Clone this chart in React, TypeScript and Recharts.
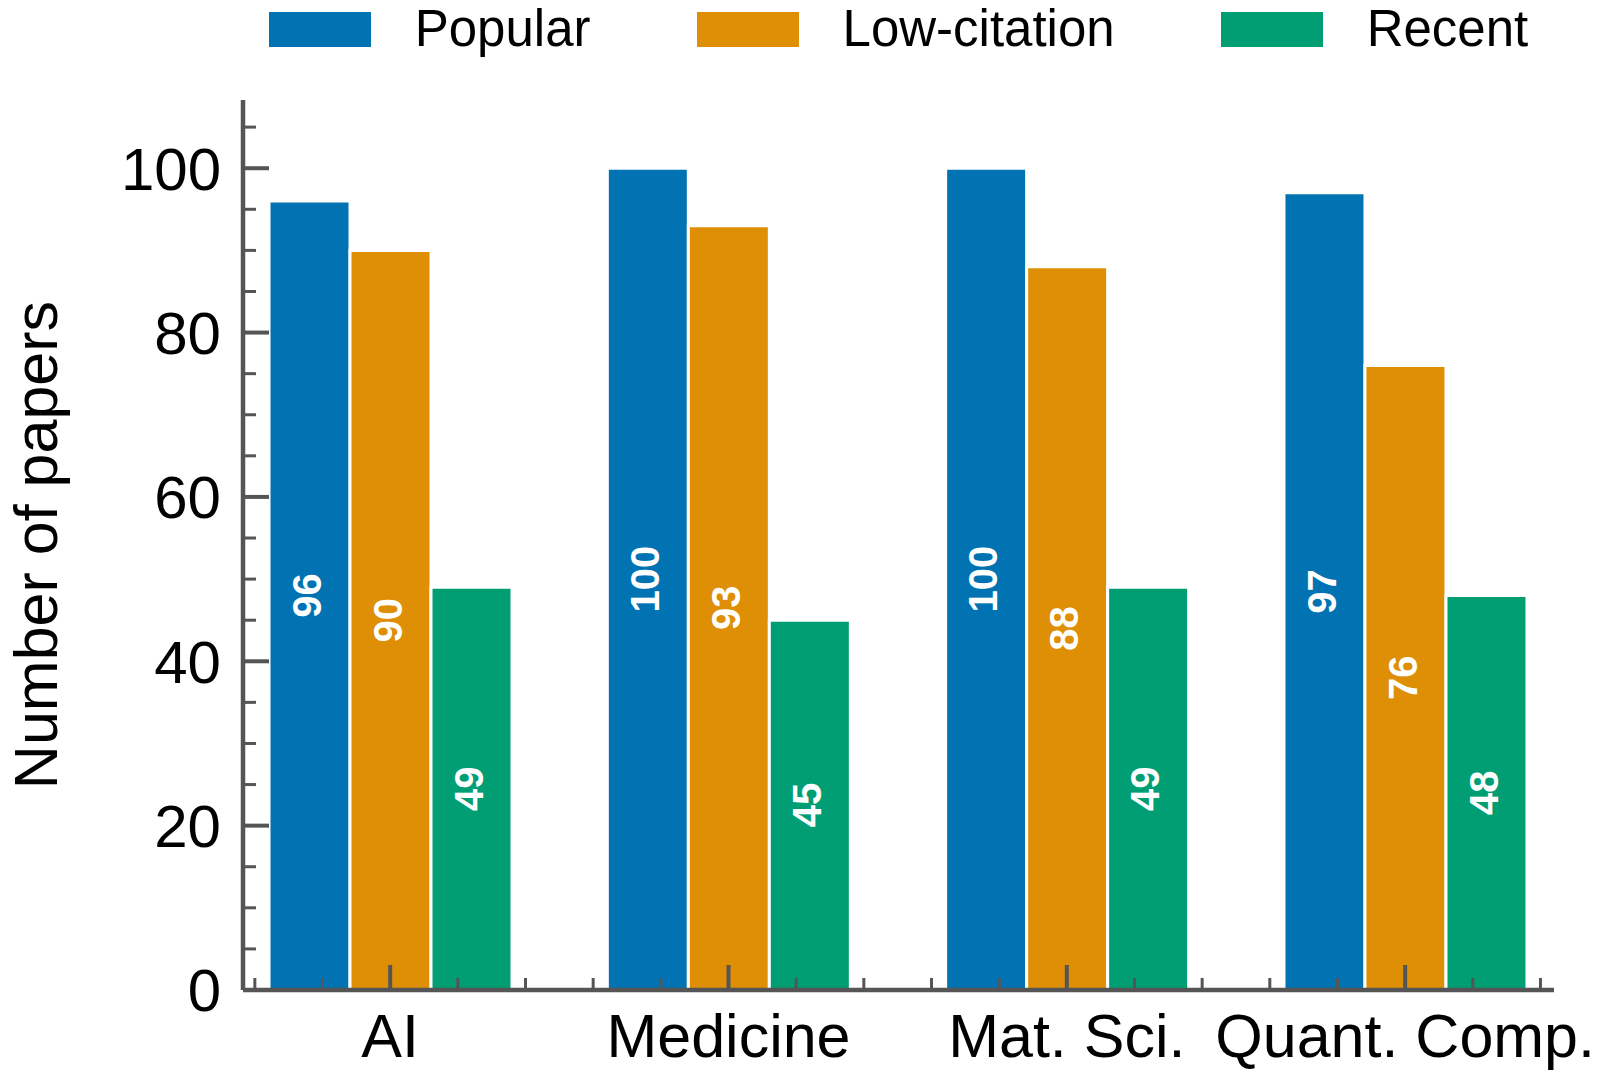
import React from 'react';
import { BarChart, Bar, XAxis, YAxis, Legend, LabelList } from 'recharts';

const categories = ['AI', 'Medicine', 'Mat. Sci.', 'Quant. Comp.'];
const popular = [96, 100, 100, 97];
const lowCitation = [90, 93, 88, 76];
const recent = [49, 45, 49, 48];
const xTicks = [-0.4, -0.2, 0, 0.2, 0.4, 0.6, 0.8, 1, 1.2, 1.4, 1.6, 1.8, 2, 2.2, 2.4, 2.6, 2.8, 3, 3.2, 3.4];
const yTicks = [0, 5, 10, 15, 20, 25, 30, 35, 40, 45, 50, 55, 60, 65, 70, 75, 80, 85, 90, 95, 100, 105];
const yMajor = [0, 20, 40, 60, 80, 100];

const seriesNames = ['Popular', 'Low-citation', 'Recent'];
const colors = ['#0173B2', '#DE8F05', '#029E73'];

const rows = categories.map((c, i) => ({
  x: i,
  name: c,
  popular: popular[i],
  lowCitation: lowCitation[i],
  recent: recent[i],
}));

const FONT = "'Liberation Sans', Arial, Helvetica, sans-serif";
const AXIS = '#555555';

const YTick = (props: any) => {
  const { x, y, payload } = props;
  const v = payload.value;
  const major = yMajor.includes(v);
  return (
    <g>
      <line x1={x} x2={x + (major ? 26 : 13)} y1={y} y2={y} stroke={AXIS} strokeWidth={major ? 4 : 3} />
      {major && (
        <text x={x - 22} y={y} dy="0.355em" textAnchor="end" fontSize={60} fontFamily={FONT} fill="#000">
          {v}
        </text>
      )}
    </g>
  );
};

const XTick = (props: any) => {
  const { x, y, payload } = props;
  const v = payload.value;
  const idx = Math.round(v);
  const major = Math.abs(v - idx) < 1e-6;
  return (
    <g>
      <line x1={x} x2={x} y1={y} y2={y - (major ? 25 : 12)} stroke={AXIS} strokeWidth={major ? 4 : 3} />
      {major && (
        <text x={x} y={y + 67} textAnchor="middle" fontSize={61} fontFamily={FONT} fill="#000">
          {categories[idx]}
        </text>
      )}
    </g>
  );
};

const LegendContent = () => (
  <div
    style={{
      display: 'flex',
      justifyContent: 'center',
      alignItems: 'center',
      height: 58,
      fontFamily: FONT,
      fontSize: 51,
      color: '#000',
      paddingLeft: 243,
      paddingRight: 46,
      boxSizing: 'border-box',
    }}
  >
    {seriesNames.map((n, i) => (
      <div key={n} style={{ display: 'flex', alignItems: 'center', marginLeft: i === 0 ? 0 : 106 }}>
        <div style={{ width: 102, height: 35, background: colors[i], marginRight: 44 }} />
        <span style={{ lineHeight: '58px', whiteSpace: 'nowrap' }}>{n}</span>
      </div>
    ))}
  </div>
);

const labelProps = {
  position: 'center' as const,
  angle: -90,
  dx: -3,
  fill: '#ffffff',
  fontSize: 40,
  fontWeight: 'bold' as const,
  fontFamily: FONT,
};

export default function App() {
  return (
    <div style={{ position: 'absolute', left: 0, top: 0, width: 1600, height: 1079, background: '#fff' }}>
      <BarChart
        width={1600}
        height={1079}
        data={rows}
        margin={{ top: 42, right: 46, bottom: 0, left: 0 }}
        barGap={0}
      >
        <Legend
          verticalAlign="top"
          align="left"
          content={<LegendContent />}
          wrapperStyle={{ top: 0, left: 0, width: 1600, height: 58 }}
        />
        <Bar dataKey="popular" name="Popular" fill={colors[0]} stroke="#ffffff" strokeWidth={3} barSize={81} isAnimationActive={false}>
          <LabelList dataKey="popular" {...labelProps} />
        </Bar>
        <Bar dataKey="lowCitation" name="Low-citation" fill={colors[1]} stroke="#ffffff" strokeWidth={3} barSize={81} isAnimationActive={false}>
          <LabelList dataKey="lowCitation" {...labelProps} />
        </Bar>
        <Bar dataKey="recent" name="Recent" fill={colors[2]} stroke="#ffffff" strokeWidth={3} barSize={81} isAnimationActive={false}>
          <LabelList dataKey="recent" {...labelProps} />
        </Bar>
        <XAxis
          type="number"
          dataKey="x"
          domain={[-0.435, 3.44]}
          allowDataOverflow
          ticks={xTicks}
          interval={0}
          tick={<XTick />}
          tickLine={false}
          tickSize={0}
          tickMargin={0}
          axisLine={{ stroke: AXIS, strokeWidth: 4.5 }}
          height={89}
        />
        <YAxis
          type="number"
          domain={[0, 108.3]}
          allowDataOverflow
          ticks={yTicks}
          interval={0}
          tick={<YTick />}
          tickLine={false}
          tickSize={0}
          tickMargin={0}
          axisLine={{ stroke: AXIS, strokeWidth: 4.5 }}
          width={243}
          label={{
            value: 'Number of papers',
            angle: -90,
            position: 'insideLeft',
            offset: 35,
            style: { textAnchor: 'middle', fontSize: 61, fontFamily: FONT, fill: '#000' },
          }}
        />
      </BarChart>
    </div>
  );
}
